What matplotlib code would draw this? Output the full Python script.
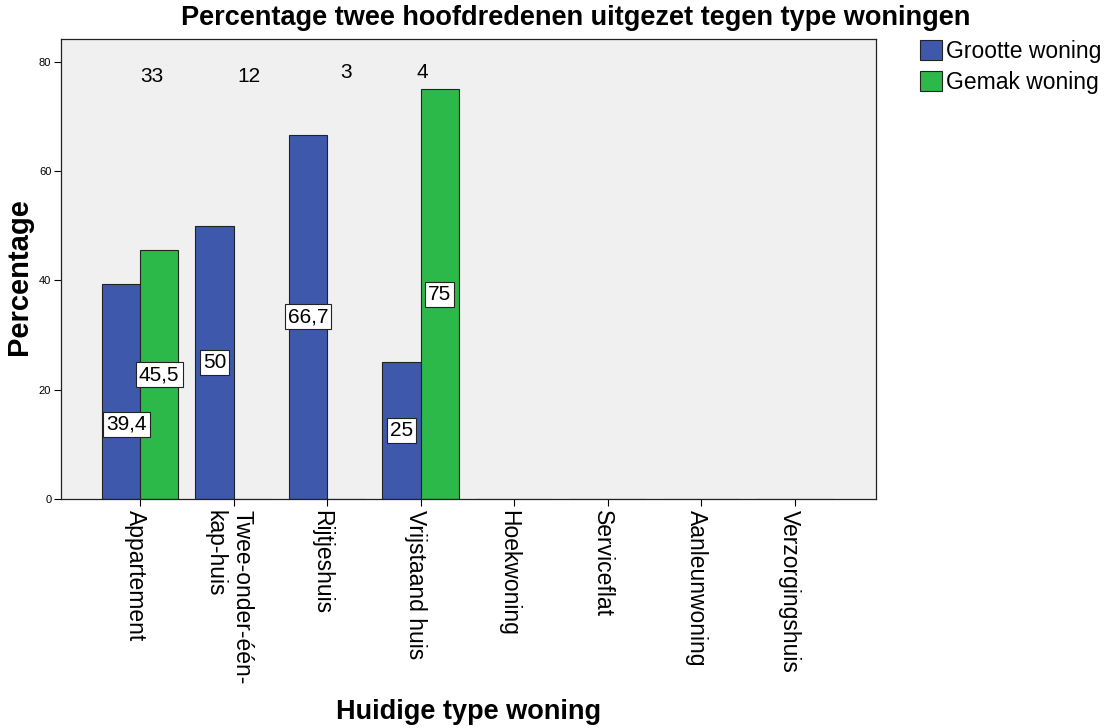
import matplotlib.pyplot as plt
import matplotlib.transforms as mtransforms
import numpy as np

plt.rcParams["font.family"] = ["Liberation Sans", "DejaVu Sans"]

# Data
categories = [
    "Appartement",
    "Twee-onder-één-\nkap-huis",
    "Rijtjeshuis",
    "Vrijstaand huis",
    "Hoekwoning",
    "Serviceflat",
    "Aanleunwoning",
    "Verzorgingshuis",
]
grootte = [39.4, 50.0, 66.7, 25.0, 0, 0, 0, 0]
gemak = [45.5, 0, 0, 75.0, 0, 0, 0, 0]
grootte_labels = ["39,4", "50", "66,7", "25"]
gemak_labels = ["45,5", "", "", "75"]
counts = ["33", "12", "3", "4"]
series_names = ["Grootte woning", "Gemak woning"]

blue = "#3E58AC"
green = "#2DB84A"

fig = plt.figure(figsize=(11.1, 7.28), dpi=100)
ax = fig.add_axes([61 / 1110, 1 - 499 / 728, (876 - 61) / 1110, (499 - 39) / 728])
ax.set_facecolor("#F0F0F0")

x = np.arange(len(categories))
width = 0.41

ax.bar(
    x - width / 2,
    grootte,
    width,
    color=blue,
    edgecolor="#222222",
    linewidth=0.8,
    label=series_names[0],
)
ax.bar(
    x + width / 2,
    gemak,
    width,
    color=green,
    edgecolor="#222222",
    linewidth=0.8,
    label=series_names[1],
)

box = dict(boxstyle="square,pad=0.15", facecolor="white", edgecolor="#222222", linewidth=0.8)

# value labels in the middle of each bar
for i, lab in enumerate(grootte_labels):
    y = grootte[i] / 2
    dx = 0.0
    if i == 0:
        y = 13.7  # moved down to avoid overlap
        dx = 0.06
    ax.text(x[i] - width / 2 + dx, y, lab, ha="center", va="center",
            fontsize=15, bbox=box)

for i, lab in enumerate(gemak_labels):
    if not lab:
        continue
    ax.text(x[i] + width / 2, gemak[i] / 2, lab, ha="center", va="center",
            fontsize=15, bbox=box)

# counts at top
count_dx = [0.13, 0.17, 0.2, 0.02]
count_y = [77.3, 77.3, 78.0, 78.0]
for i, c in enumerate(counts):
    ax.text(x[i] + count_dx[i], count_y[i], c, ha="center", va="center", fontsize=15)

ax.set_xlim(-0.845, 7.87)
ax.set_ylim(0, 84.2)
ax.set_yticks([0, 20, 40, 60, 80])
ax.tick_params(axis="y", labelsize=8, length=5, direction="out", pad=2)
ax.tick_params(axis="x", length=5, direction="out", pad=3)
ax.set_xticks(x)
ax.set_xticklabels(categories, rotation=-90, fontsize=16.5, ha="center", va="top",
                   multialignment="left")

shift = mtransforms.ScaledTranslation(-5 / 100, 0, fig.dpi_scale_trans)
for lbl in ax.get_xticklabels():
    lbl.set_transform(lbl.get_transform() + shift)

for s in ax.spines.values():
    s.set_color("#222222")
    s.set_linewidth(0.9)

ax.set_ylabel("Percentage", fontsize=21, fontweight="bold")
ax.yaxis.set_label_coords(-0.034, 0.483)
ax.set_xlabel("Huidige type woning", fontsize=19.5, fontweight="bold")
ax.xaxis.set_label_coords(0.5, -0.435)

fig.text(576 / 1110, 1 - 18 / 728,
         "Percentage twee hoofdredenen uitgezet tegen type woningen",
         fontsize=19.5, fontweight="bold", ha="center", va="center")

ax.legend(
    loc="upper left",
    bbox_to_anchor=(1.054, 0.998),
    frameon=False,
    fontsize=16.5,
    handlelength=0.95,
    handleheight=0.95,
    handletextpad=0.2,
    labelspacing=0.35,
    borderaxespad=0,
    borderpad=0,
)

fig.savefig("out.png", dpi=100, facecolor="white")
